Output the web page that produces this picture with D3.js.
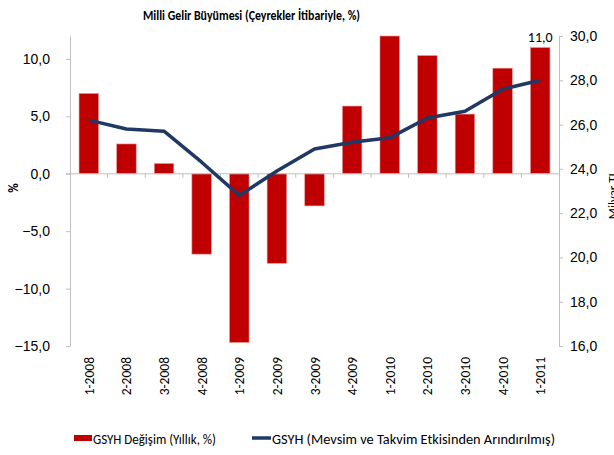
<!DOCTYPE html>
<html>
<head>
<meta charset="utf-8">
<script src="https://cdn.jsdelivr.net/npm/d3@7"></script>
<style>
  body { margin: 0; background: #fff; }
  svg { display: block; font-family: Carlito, "Liberation Sans Narrow", "Open Sans", sans-serif; }
</style>
</head>
<body>
<div id="chart"></div>
<script>
// Chart Data
var quarters = ["1-2008", "2-2008", "3-2008", "4-2008", "1-2009", "2-2009", "3-2009",
                "4-2009", "1-2010", "2-2010", "3-2010", "4-2010", "1-2011"];
var growth = [7.0, 2.6, 0.9, -7.0, -14.7, -7.8, -2.8, 5.9, 12.0, 10.3, 5.2, 9.2, 11.0];
var gdpLevel = [26.2, 25.8, 25.7, 24.3, 22.8, 23.9, 24.9, 25.2, 25.4, 26.3, 26.6, 27.6, 28.0];
var leftTicks = [-15, -10, -5, 0, 5, 10];
var rightTicks = [16, 18, 20, 22, 24, 26, 28, 30];

var W = 614, H = 455;
var plot = { left: 70, right: 559, top: 36, bottom: 346 };
var fmt = function(d) { return d3.format(".1f")(d).replace(".", ","); };

var svg = d3.select("#chart").append("svg")
    .attr("width", W)
    .attr("height", H);

// Scales
var x = d3.scaleBand().domain(quarters).range([plot.left, plot.right]).paddingInner(0.48).paddingOuter(0.24);
var xPos = d3.scaleBand().domain(quarters).range([plot.left, plot.right]);
var yL = d3.scaleLinear().domain([-15, 12]).range([plot.bottom, plot.top]);
var yR = d3.scaleLinear().domain([16, 30]).range([plot.bottom, plot.top]);

// Title
svg.append("text")
    .attr("x", 143).attr("y", 20)
    .attr("font-size", 14.5).attr("font-weight", "bold")
    .attr("textLength", 217).attr("lengthAdjust", "spacingAndGlyphs")
    .text("Milli Gelir Büyümesi (Çeyrekler İtibariyle, %)");

// Left Axis
var axisL = svg.append("g")
    .attr("transform", "translate(" + plot.left + ",0)")
    .call(d3.axisLeft(yL).tickValues(leftTicks).tickSize(4).tickSizeOuter(0).tickFormat(fmt));
axisL.selectAll("text").attr("font-size", 14).attr("fill", "#000").attr("x", -20);

// Right Axis
var axisR = svg.append("g")
    .attr("transform", "translate(" + plot.right + ",0)")
    .call(d3.axisRight(yR).tickValues(rightTicks).tickSize(4).tickSizeOuter(0).tickFormat(fmt));
axisR.selectAll("text").attr("font-size", 14).attr("fill", "#000").attr("x", 11);

svg.selectAll(".domain, .tick line").attr("stroke", "#bfbfbf");

// Bars
svg.selectAll("rect.bar")
    .data(growth)
  .enter().append("rect")
    .attr("class", "bar")
    .attr("x", function(d, i) { return x(quarters[i]); })
    .attr("width", x.bandwidth())
    .attr("y", function(d) { return yL(Math.max(0, d)); })
    .attr("height", function(d) { return Math.abs(yL(d) - yL(0)); })
    .attr("fill", "#c00000")
    .attr("stroke", "#e8a0a0")
    .attr("stroke-width", 0.6);

// Zero Line And Category Ticks
svg.append("line")
    .attr("x1", plot.left - 4).attr("x2", plot.right)
    .attr("y1", yL(0)).attr("y2", yL(0))
    .attr("stroke", "#bfbfbf");
svg.selectAll("line.cat")
    .data(quarters.slice(1))
  .enter().append("line")
    .attr("class", "cat")
    .attr("x1", function(d) { return xPos(d); })
    .attr("x2", function(d) { return xPos(d); })
    .attr("y1", yL(0)).attr("y2", yL(0) + 4)
    .attr("stroke", "#bfbfbf");

// Line Series
var line = d3.line()
    .x(function(d, i) { return xPos(quarters[i]) + xPos.bandwidth() / 2; })
    .y(function(d) { return yR(d); });
svg.append("path")
    .datum(gdpLevel)
    .attr("d", line)
    .attr("fill", "none")
    .attr("stroke", "#1f3864")
    .attr("stroke-width", 3.5)
    .attr("stroke-linejoin", "round");

// Label On Last Bar
var last = growth.length - 1;
svg.append("text")
    .attr("x", x(quarters[last]) + x.bandwidth() / 2)
    .attr("y", yL(growth[last]) - 5)
    .attr("text-anchor", "middle")
    .attr("font-size", 14)
    .text(fmt(growth[last]));

// Category Labels
svg.selectAll("text.cat")
    .data(quarters)
  .enter().append("text")
    .attr("class", "cat")
    .attr("transform", function(d) {
      return "translate(" + (xPos(d) + xPos.bandwidth() / 2 + 5) + ",357) rotate(-90)";
    })
    .attr("text-anchor", "end")
    .attr("font-size", 13.5)
    .text(function(d) { return d; });

// Axis Titles
svg.append("text")
    .attr("transform", "translate(18,188) rotate(-90)")
    .attr("text-anchor", "middle")
    .attr("font-size", 13).attr("font-weight", "bold")
    .text("%");
svg.append("text")
    .attr("transform", "translate(617,195) rotate(-90)")
    .attr("text-anchor", "middle")
    .attr("font-size", 13)
    .text("Milyar TL");

// Legend
var legend = svg.append("g").attr("font-size", 14);
legend.append("rect")
    .attr("x", 74).attr("y", 435).attr("width", 18).attr("height", 6)
    .attr("fill", "#c00000");
legend.append("text").attr("x", 93).attr("y", 444)
    .attr("textLength", 123).attr("lengthAdjust", "spacingAndGlyphs")
    .text("GSYH Değişim (Yıllık, %)");
legend.append("line")
    .attr("x1", 252).attr("x2", 271).attr("y1", 438).attr("y2", 438)
    .attr("stroke", "#1f3864").attr("stroke-width", 3.5);
legend.append("text").attr("x", 272).attr("y", 444)
    .attr("textLength", 283).attr("lengthAdjust", "spacingAndGlyphs")
    .text("GSYH (Mevsim ve Takvim Etkisinden Arındırılmış)");
</script>
</body>
</html>
